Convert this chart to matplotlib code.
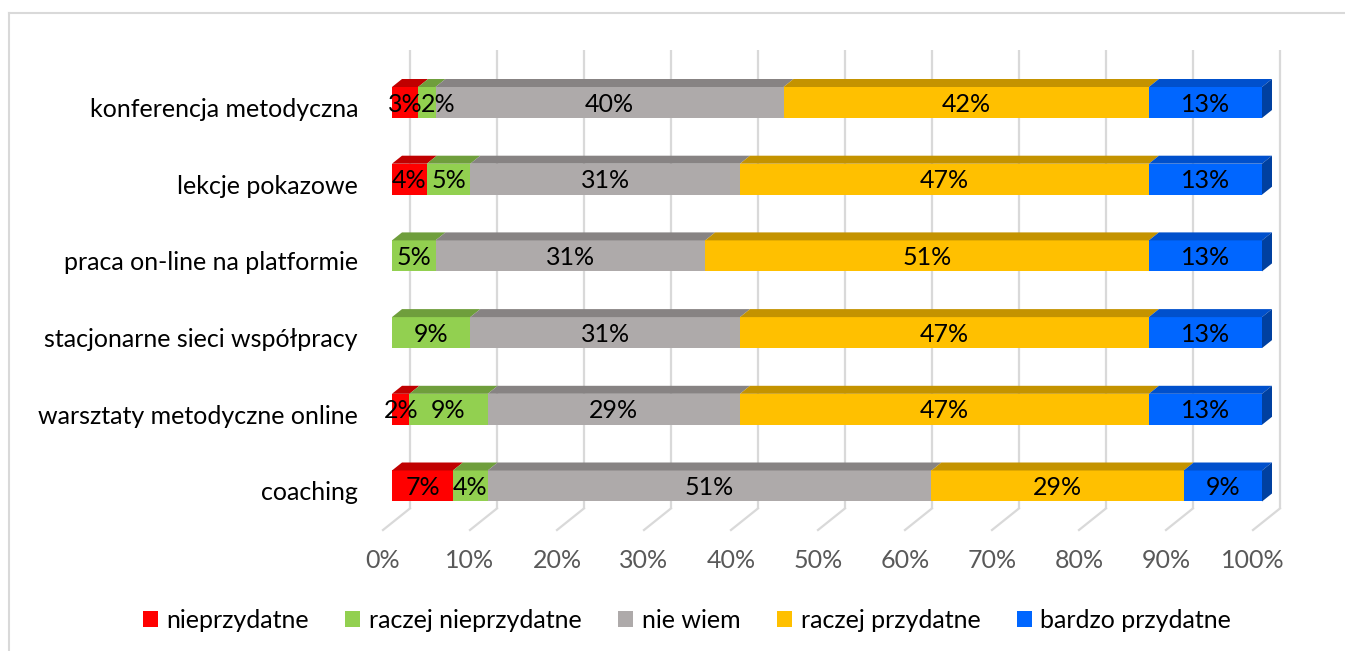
import matplotlib
matplotlib.use("Agg")
import matplotlib.pyplot as plt
from matplotlib.patches import Polygon, Patch
from matplotlib.lines import Line2D

# ---------------- data ----------------
categories = ["coaching", "warsztaty metodyczne online", "stacjonarne sieci współpracy",
              "praca on-line na platformie", "lekcje pokazowe", "konferencja metodyczna"]
series_names = ["nieprzydatne", "raczej nieprzydatne", "nie wiem", "raczej przydatne", "bardzo przydatne"]
nieprzydatne        = [7, 2, 0, 0, 4, 3]
raczej_nieprzydatne = [4, 9, 9, 5, 5, 2]
nie_wiem            = [51, 29, 31, 31, 31, 40]
raczej_przydatne    = [29, 47, 47, 51, 47, 42]
bardzo_przydatne    = [9, 13, 13, 13, 13, 13]
tick_values = [0, 10, 20, 30, 40, 50, 60, 70, 80, 90, 100]
tick_labels = [f"{v}%" for v in tick_values]

series = [nieprzydatne, raczej_nieprzydatne, nie_wiem, raczej_przydatne, bardzo_przydatne]
front_colors = ["#FF0000", "#92D050", "#AEAAAA", "#FFC000", "#0066FF"]
top_colors = ["#C00000", "#6F9E3C", "#878383", "#C49300", "#0050CC"]
side_color_last = "#0040A0"

FONT = "Lato"
FS = 18

# --------------- figure / axes ---------------
W, H = 1345, 651
fig = plt.figure(figsize=(W / 100, H / 100), dpi=100)
fig.patch.set_facecolor("white")

# outer border (only left and top visible in the reference)
fig.add_artist(Line2D([9 / W, 9 / W], [0, 1 - 13 / H], color="#D9D9D9", lw=1.5))
fig.add_artist(Line2D([9 / W, 1], [1 - 13 / H, 1 - 13 / H], color="#D9D9D9", lw=1.5))

ax_l, ax_r, ax_t, ax_b = 300, 1345, 30, 580   # pixel frame of axes
ax = fig.add_axes([ax_l / W, 1 - ax_b / H, (ax_r - ax_l) / W, (ax_b - ax_t) / H])
px_per_pct = 8.7
x0_px = 392
row_px = 76.7
row0_px = 486
ax.set_xlim((ax_l - x0_px) / px_per_pct, (ax_r - x0_px) / px_per_pct)
ax.set_ylim((row0_px - ax_b) / row_px, (row0_px - ax_t) / row_px)
ax.axis("off")

# depth vector for 1 unit of depth (10px right, 8px up)
ddx = 10 / px_per_pct
ddy = 8 / row_px
bar_h = 31 / row_px
floor_y = (row0_px - 522.8) / row_px
wall_top = (row0_px - 50) / row_px
d_front, d_back = -0.9, 1.8
min_label_gap = 3.8   # minimal distance (in %) between centres of neighbouring value labels

# gridlines: back wall + floor
for v, lab in zip(tick_values, tick_labels):
    xb = v + d_back * ddx
    yb = floor_y + d_back * ddy
    ax.plot([xb, xb], [yb, wall_top], color="#D9D9D9", lw=1.6, zorder=1, solid_capstyle="butt")
    ax.plot([xb, v + d_front * ddx], [yb, floor_y + d_front * ddy], color="#D9D9D9", lw=1.6, zorder=1)
    ax.text(v + d_front * ddx, (row0_px - 560) / row_px, lab, ha="center", va="center",
            fontsize=FS, color="#595959", family=FONT)

# bars
ypos = list(range(len(categories)))
for i, y in enumerate(ypos):
    left = 0
    vals = [s[i] for s in series]
    last_nonzero = max(k for k, v in enumerate(vals) if v > 0)
    prev_lx = None
    for k, v in enumerate(vals):
        if v <= 0:
            continue
        right = left + v
        z = 3 + k * 0.1
        ax.barh(y, v, left=left, height=bar_h, color=front_colors[k], zorder=z, linewidth=0)
        yt = y + bar_h / 2
        ax.add_patch(Polygon([(left, yt), (right, yt), (right + ddx, yt + ddy), (left + ddx, yt + ddy)],
                             closed=True, facecolor=top_colors[k], edgecolor="none", zorder=z))
        if k == last_nonzero:
            yb_ = y - bar_h / 2
            ax.add_patch(Polygon([(right, yb_), (right + ddx, yb_ + ddy), (right + ddx, yt + ddy), (right, yt)],
                                 closed=True, facecolor=side_color_last, edgecolor="none", zorder=z))
        lx = left + v / 2
        if prev_lx is not None and lx - prev_lx < min_label_gap:
            lx = prev_lx + min_label_gap
        prev_lx = lx
        ax.text(lx, y - 0.02, f"{v}%", ha="center", va="center", fontsize=FS,
                color="black", family=FONT, zorder=10)
        left = right
    ax.text((358 - x0_px) / px_per_pct, y - 0.09, categories[i], ha="right", va="center",
            fontsize=FS, color="black", family=FONT)

# legend
handles = [Patch(facecolor=c, edgecolor="none") for c in front_colors]
fig.legend(handles, series_names, loc="center", bbox_to_anchor=(687 / W, 1 - 620 / H), ncol=5,
           frameon=False, prop={"family": FONT, "size": FS}, handlelength=0.6, handleheight=0.6,
           handletextpad=0.35, columnspacing=1.45)

fig.savefig("out.png", dpi=100)
